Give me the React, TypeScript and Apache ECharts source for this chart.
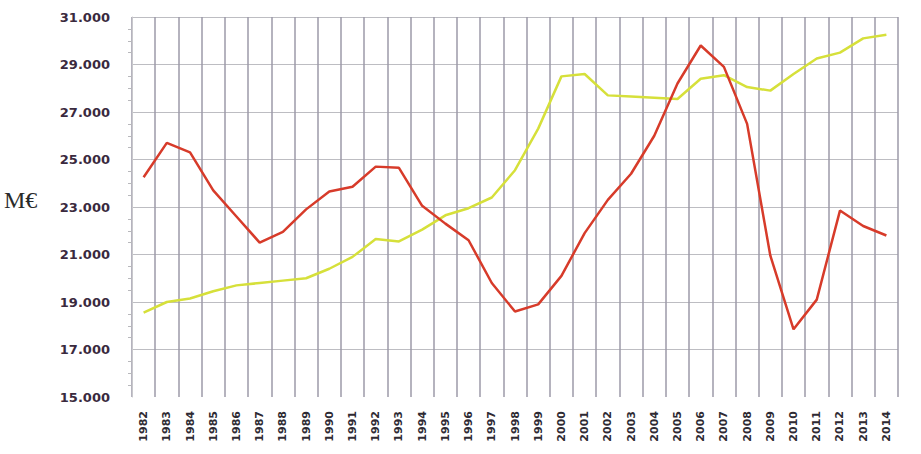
import React, { useEffect, useRef } from "react";
import * as echarts from "echarts";

const years = [
  "1982","1983","1984","1985","1986","1987","1988","1989","1990","1991","1992",
  "1993","1994","1995","1996","1997","1998","1999","2000","2001","2002","2003",
  "2004","2005","2006","2007","2008","2009","2010","2011","2012","2013","2014",
];

const redSeries = [
  24250, 25700, 25300, 23700, 22600, 21500, 21950, 22900, 23650, 23850, 24700,
  24650, 23050, 22300, 21600, 19800, 18600, 18900, 20100, 21900, 23300, 24400,
  26000, 28200, 29800, 28900, 26500, 20950, 17850, 19100, 22850, 22200, 21800,
];

const yellowSeries = [
  18550, 19000, 19150, 19450, 19700, 19800, 19900, 20000, 20400, 20900, 21650,
  21550, 22050, 22650, 22950, 23400, 24550, 26300, 28500, 28600, 27700, 27650,
  27600, 27550, 28400, 28550, 28050, 27900, 28600, 29250, 29500, 30100, 30250,
];

const yMin = 15000;
const yMax = 31000;
const yStep = 2000;

export default function App() {
  const ref = useRef<HTMLDivElement>(null);

  useEffect(() => {
    if (!ref.current) return;
    const chart = echarts.init(ref.current, null, { renderer: "svg" });
    const hColors = ["rgba(0,0,0,0)"];
    for (let i = 0; i < 8; i++) hColors.push("#bdbdc2");
    chart.setOption({
      animation: false,
      backgroundColor: "#ffffff",
      grid: { left: 132, right: 23, top: 17, bottom: 57, containLabel: false },
      graphic: [
        {
          type: "text",
          left: 4,
          top: 188,
          style: {
            text: "M€",
            font: "24px 'Liberation Serif', serif",
            fill: "#2a2a2a",
          },
        },
      ],
      xAxis: {
        type: "category",
        data: years,
        boundaryGap: true,
        axisLine: { show: false },
        axisTick: { show: false },
        axisLabel: {
          rotate: 90,
          margin: 14,
          fontSize: 11,
          fontWeight: "bold",
          fontFamily: "'DejaVu Sans', sans-serif",
          color: "#2e2a33",
          interval: 0,
        },
        splitLine: {
          show: true,
          interval: 0,
          lineStyle: { color: "#9c9aa8", width: 1.5 },
        },
      },
      yAxis: {
        type: "value",
        min: yMin,
        max: yMax,
        interval: yStep,
        axisLine: { show: true, lineStyle: { color: "#c8c8cc", width: 1 } },
        axisTick: { show: false },
        minorTick: {
          show: true,
          splitNumber: 4,
          length: 4,
          lineStyle: { color: "#b8b8bc" },
        },
        axisLabel: {
          margin: 22,
          fontSize: 13,
          fontWeight: "bold",
          fontFamily: "'DejaVu Sans', sans-serif",
          color: "#3a2a3e",
          formatter: (v: number) => (v / 1000).toFixed(3),
        },
        splitLine: {
          show: true,
          lineStyle: { color: hColors, width: 1 },
        },
      },
      series: [
        {
          type: "line",
          data: yellowSeries,
          symbol: "none",
          lineStyle: { color: "#d6e03a", width: 2.5 },
          z: 2,
        },
        {
          type: "line",
          data: redSeries,
          symbol: "none",
          lineStyle: { color: "#d73b2a", width: 2.5 },
          z: 3,
        },
      ],
    });
    return () => chart.dispose();
  }, []);

  return (
    <div
      ref={ref}
      style={{ width: 921, height: 454, position: "absolute", left: 0, top: 0 }}
    />
  );
}
